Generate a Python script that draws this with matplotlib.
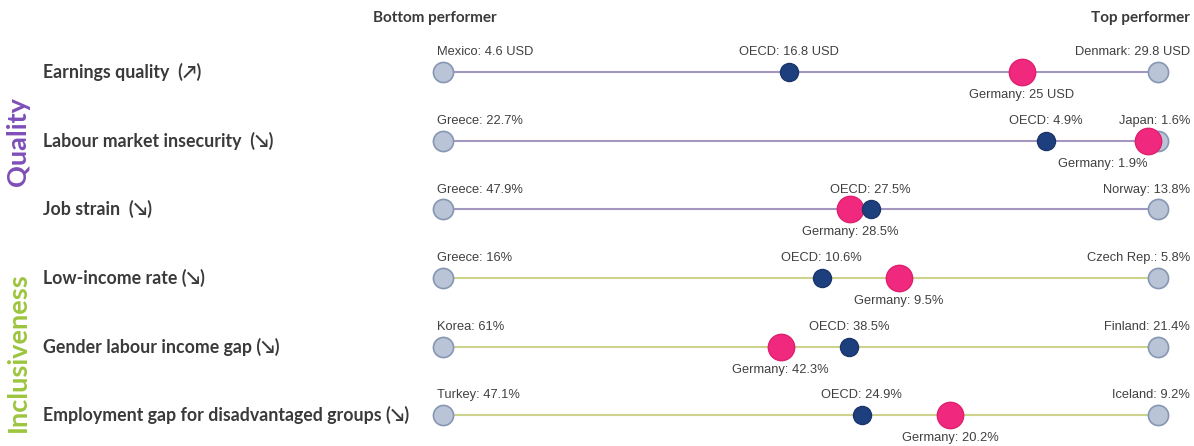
import numpy as np
import matplotlib
matplotlib.use("Agg")
import matplotlib.pyplot as plt
from matplotlib.transforms import blended_transform_factory

# indicators, top to bottom
indicators = ["Earnings quality  (↗)", "Labour market insecurity  (↘)", "Job strain  (↘)",
              "Low-income rate (↘)", "Gender labour income gap (↘)",
              "Employment gap for disadvantaged groups (↘)"]
groups = ["Quality", "Quality", "Quality", "Inclusiveness", "Inclusiveness", "Inclusiveness"]
units = [" USD", "%", "%", "%", "%", "%"]

bottom_country = ["Mexico", "Greece", "Greece", "Greece", "Korea", "Turkey"]
bottom_value = [4.6, 22.7, 47.9, 16, 61, 47.1]
top_country = ["Denmark", "Japan", "Norway", "Czech Rep.", "Finland", "Iceland"]
top_value = [29.8, 1.6, 13.8, 5.8, 21.4, 9.2]
oecd_value = [16.8, 4.9, 27.5, 10.6, 38.5, 24.9]
germany_value = [25, 1.9, 28.5, 9.5, 42.3, 20.2]

def fmt(v, u):
    s = ('%g' % v)
    return s + u

line_col = {"Quality": "#a397bf", "Inclusiveness": "#cdd28c"}
grp_col = {"Quality": "#7e4fb8", "Inclusiveness": "#9cc53d"}
txt_col = "#404040"

fig = plt.figure(figsize=(11.94, 4.46), dpi=100)
ax = fig.add_axes([443/1194, 0, 715/1194, 1])
ax.set_xlim(0, 1)
ax.set_ylim(5.45, -1.05)
ax.axis("off")

small = dict(family=["Liberation Sans", "DejaVu Sans"], fontsize=9.3, color=txt_col)
bold = dict(family=["Lato", "DejaVu Sans"], fontsize=12.8, fontweight="bold", color="#3a3a3a")
head = dict(family=["Lato", "DejaVu Sans"], fontsize=11, fontweight="bold", color="#3a3a3a")

tr = blended_transform_factory(fig.transFigure, ax.transData)

for i in range(len(indicators)):
    b = bottom_value[i]; t = top_value[i]
    # position on the bottom -> top scale
    fo = (b - oecd_value[i]) / (b - t)
    fg = (b - germany_value[i]) / (b - t)
    ax.plot([0, 1], [i, i], color=line_col[groups[i]], lw=1.5, zorder=1, clip_on=False)
    ax.scatter([0, 1], [i, i], s=14.5**2, color="#b9c4d6", edgecolor="#8797b3", lw=1.2, zorder=2, clip_on=False)
    ax.scatter([fg], [i], s=19**2, color="#f0287e", edgecolor="#e0206f", lw=1, zorder=3, clip_on=False)
    ax.scatter([fo], [i], s=13**2, color="#1e3f7d", edgecolor="#1a356b", lw=1, zorder=4, clip_on=False)

    ax.text(-0.008, i - 0.2, bottom_country[i] + ": " + fmt(b, units[i]), ha="left", va="bottom", **small)
    ax.text(1.045, i - 0.2, top_country[i] + ": " + fmt(t, units[i]), ha="right", va="bottom", **small)
    ax.text(fo, i - 0.2, "OECD: " + fmt(oecd_value[i], units[i]), ha="center", va="bottom", **small)
    if fg > 0.95:
        ax.text(fg, i + 0.25, "Germany: " + fmt(germany_value[i], units[i]), ha="right", va="top", **small)
    else:
        ax.text(fg, i + 0.25, "Germany: " + fmt(germany_value[i], units[i]), ha="center", va="top", **small)

    ax.text(43/1194, i, indicators[i], transform=tr, ha="left", va="center", **bold)

fig.text(373/1194, 1 - 18/446, "Bottom performer", ha="left", va="center", **head)
fig.text(1190/1194, 1 - 18/446, "Top performer", ha="right", va="center", **head)

fig.text(18/1194, 1 - 142/446, "Quality", rotation=90, ha="center", va="center",
         family=["Lato", "DejaVu Sans"], fontsize=19.5, fontweight="bold", color=grp_col["Quality"])
fig.text(18/1194, 1 - 352/446, "Inclusiveness", rotation=90, ha="center", va="center",
         family=["Lato", "DejaVu Sans"], fontsize=19.5, fontweight="bold", color=grp_col["Inclusiveness"])

fig.savefig("out.png", dpi=100)
